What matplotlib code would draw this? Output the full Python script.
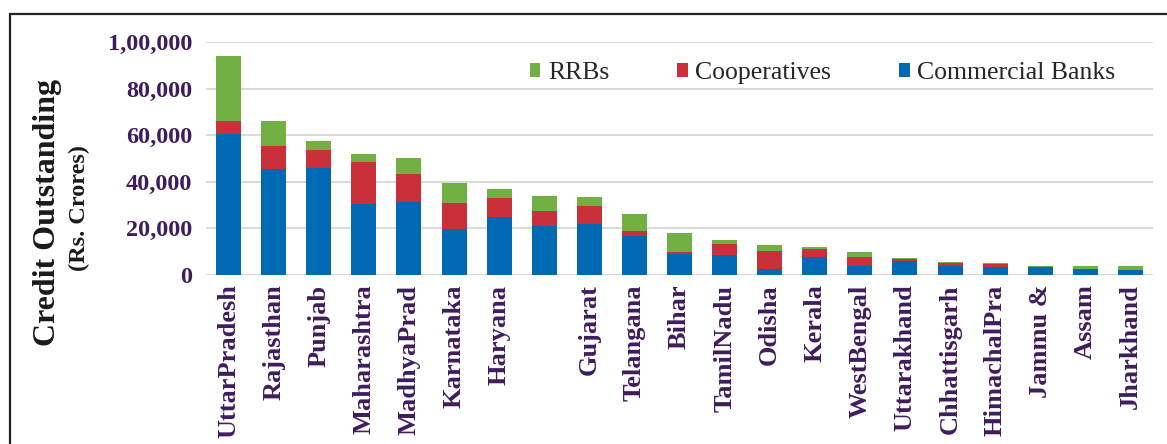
import matplotlib
matplotlib.use("Agg")
import matplotlib.pyplot as plt
from matplotlib.patches import Rectangle
import numpy as np

# values in Rs. crores
states = ["UttarPradesh", "Rajasthan", "Punjab", "Maharashtra", "MadhyaPrad",
          "Karnataka", "Haryana", "", "Gujarat", "Telangana", "Bihar",
          "TamilNadu", "Odisha", "Kerala", "WestBengal", "Uttarakhand",
          "Chhattisgarh", "HimachalPra", "Jammu &", "Assam", "Jharkhand"]
commercial = [60500, 45500, 46100, 30400, 31400, 19800, 24800, 20900, 21900, 16800,
              9000, 8700, 2700, 7700, 3900, 5800, 3800, 3500, 3200, 2500, 2100]
cooperatives = [5800, 9800, 7600, 18300, 11800, 10900, 8100, 6500, 7700, 2100,
                900, 4500, 7500, 3200, 3800, 900, 1100, 1100, 100, 100, 100]
rrbs = [27700, 11000, 3800, 3400, 6900, 8800, 4000, 6700, 3900, 7200,
        8000, 1700, 2600, 1000, 2200, 600, 700, 300, 500, 1200, 1600]

y_ticks = [0, 20000, 40000, 60000, 80000, 100000]
y_tick_labels = ["0", "20,000", "40,000", "60,000", "80,000", "1,00,000"]

BLUE = "#0069b4"
RED = "#c9303a"
GREEN = "#72b043"
PURPLE = "#3f1d5c"

plt.rcParams["font.family"] = ["Liberation Serif", "DejaVu Serif"]

W, H = 1167, 444
fig = plt.figure(figsize=(W / 100, H / 100), dpi=100)
ax = fig.add_axes([206 / W, 1 - 274.8 / H, (1153 - 206) / W, (274.8 - 42.3) / H])

x = np.arange(len(states))
comm = np.array(commercial)
coop = np.array(cooperatives)
rrb = np.array(rrbs)
bw = 0.555

b1 = ax.bar(x, comm, bw, color=BLUE, label="Commercial Banks", zorder=3)
b2 = ax.bar(x, coop, bw, bottom=comm, color=RED, label="Cooperatives", zorder=3)
b3 = ax.bar(x, rrb, bw, bottom=comm + coop, color=GREEN, label="RRBs", zorder=3)

ax.set_xlim(-0.5, len(states) - 0.5)
ax.set_ylim(0, 100000)
ax.set_yticks(y_ticks)
ax.set_yticklabels(y_tick_labels)
ax.set_xticks(x)
ax.set_xticklabels(states, rotation=90)

for s in ax.spines.values():
    s.set_visible(False)
ax.grid(axis="y", color="#d9d9d9", linewidth=1.4, zorder=0)
ax.set_axisbelow(True)
ax.tick_params(length=0)
ax.tick_params(axis="y", pad=10, labelsize=17.5, labelcolor=PURPLE)
ax.tick_params(axis="x", pad=7, labelsize=19, labelcolor=PURPLE)
for t in ax.get_xticklabels() + ax.get_yticklabels():
    t.set_fontweight("bold")

ax.legend(handles=[b3, b2, b1], ncol=3, frameon=False, fontsize=18.5,
          loc="center left", bbox_to_anchor=(530 / W, 1 - 73 / H),
          bbox_transform=fig.transFigure, borderpad=0, borderaxespad=0,
          handlelength=0.4, handleheight=0.47, handletextpad=0.3,
          columnspacing=2.65, labelcolor="#262626")

fig.text(48 / W, 1 - 212 / H, "Credit Outstanding", rotation=90, ha="center",
         va="center", fontsize=23, fontweight="bold", color="#1a1a1a")
fig.text(79 / W, 1 - 208 / H, "(Rs. Crores)", rotation=90, ha="center",
         va="center", fontsize=17.5, fontweight="bold", color="#1a1a1a")

# outer frame (only left and top edges fall inside the picture)
fig.add_artist(Rectangle((9.5 / W, -0.5), 1.2, 1.5 - 14 / H,
                         transform=fig.transFigure, fill=False,
                         edgecolor="#222222", linewidth=1.6))

fig.savefig("out.png", dpi=100)
